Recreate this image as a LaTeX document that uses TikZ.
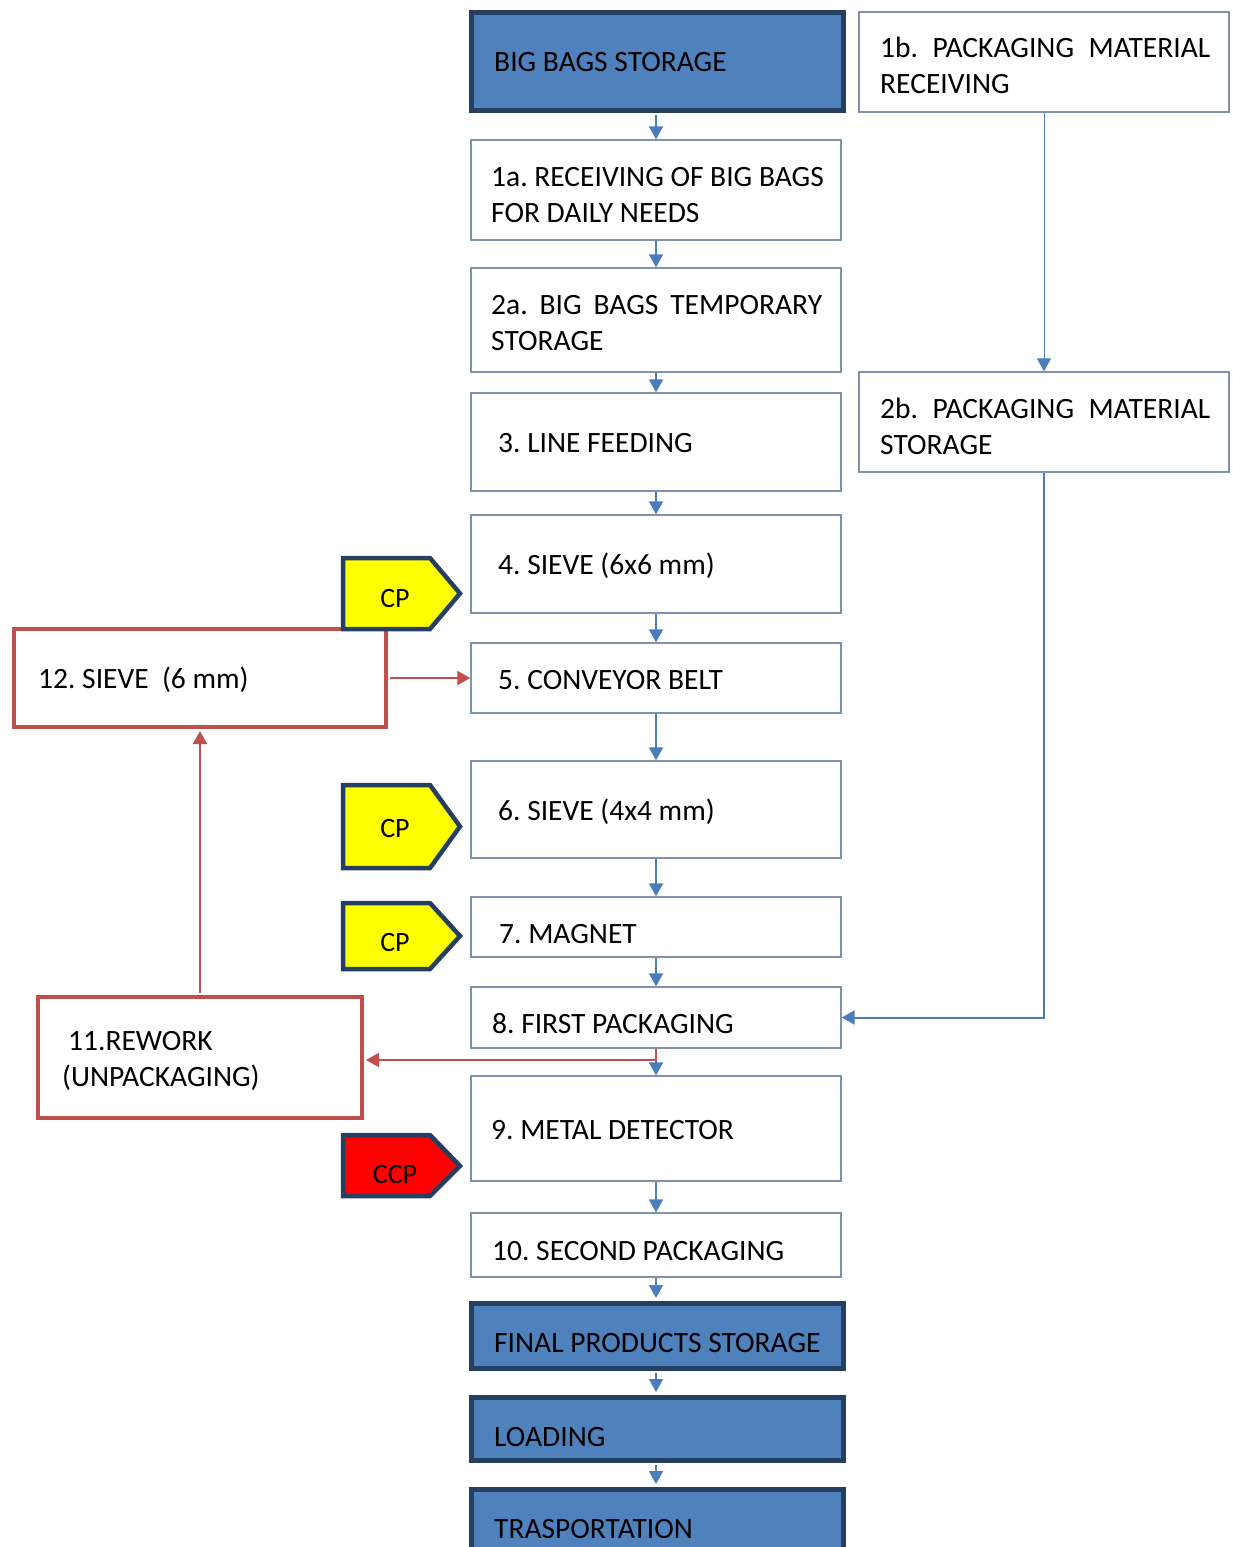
\documentclass[tikz,border=0pt]{standalone}
\usepackage{fontspec}
\setmainfont{Carlito}
\usetikzlibrary{arrows.meta}
\definecolor{boxblue}{HTML}{4F81BD}
\definecolor{navy}{HTML}{243F60}
\definecolor{thinb}{HTML}{7F93AE}
\definecolor{conblue}{HTML}{4A7DBA}
\definecolor{redl}{HTML}{C0504D}
\definecolor{cpyellow}{HTML}{FFFF00}
\definecolor{ccpred}{HTML}{FF0000}
\frenchspacing
\tikzset{
  thinbox/.style={draw=thinb, line width=1.3pt, fill=white, rectangle, inner sep=0pt},
  thickbox/.style={draw=navy, line width=5pt, fill=boxblue, rectangle, inner sep=0pt},
  redbox/.style={draw=redl, line width=4pt, fill=white, rectangle, inner sep=0pt},
  lbl/.style={anchor=base west, inner sep=0pt, font=\fontsize{29.5pt}{35pt}\selectfont},
  cplbl/.style={anchor=base, inner sep=0pt, font=\fontsize{28pt}{34pt}\selectfont},
  arr/.style={draw=conblue, line width=2pt, -{Triangle[width=14pt,length=13pt]}},
  thinarr/.style={draw=conblue, line width=1pt, -{Triangle[width=14pt,length=13pt]}},
  redarr/.style={draw=redl, line width=2pt, -{Triangle[width=14pt,length=13pt]}},
  pent/.style={draw=navy, line width=4.5pt, line join=miter},
}
\begin{document}
\begin{tikzpicture}[x=1pt,y=-1pt]
\useasboundingbox (0,0) rectangle (1233,1547);
% boxes
\node[thickbox, minimum width=372pt, minimum height=98pt] (bbs) at (657,61) {};
\node[thinbox, minimum width=370pt, minimum height=100pt] (b1b) at (1044,62) {};
\node[thinbox, minimum width=370pt, minimum height=100pt] (b1a) at (656,190) {};
\node[thinbox, minimum width=370pt, minimum height=104pt] (b2a) at (656,320) {};
\node[thinbox, minimum width=370pt, minimum height=98pt] (b3) at (656,442) {};
\node[thinbox, minimum width=370pt, minimum height=100pt] (b2b) at (1044,422) {};
\node[thinbox, minimum width=370pt, minimum height=98pt] (b4) at (656,564) {};
\node[redbox, minimum width=372pt, minimum height=98pt] (b12) at (200,678) {};
\node[thinbox, minimum width=370pt, minimum height=70pt] (b5) at (656,678) {};
\node[thinbox, minimum width=370pt, minimum height=97pt] (b6) at (656,809.5) {};
\node[thinbox, minimum width=370pt, minimum height=60pt] (b7) at (656,927) {};
\node[thinbox, minimum width=370pt, minimum height=61pt] (b8) at (656,1017.5) {};
\node[redbox, minimum width=324pt, minimum height=121pt] (b11) at (200,1057.5) {};
\node[thinbox, minimum width=370pt, minimum height=105pt] (b9) at (656,1128.5) {};
\node[thinbox, minimum width=370pt, minimum height=64pt] (b10) at (656,1245) {};
\node[thickbox, minimum width=372pt, minimum height=65pt] (bfp) at (657,1335.5) {};
\node[thickbox, minimum width=372pt, minimum height=63pt] (bld) at (657,1428.5) {};
\node[thickbox, minimum width=372pt, minimum height=71pt] (btr) at (657,1524.5) {};
% pentagons
\draw[pent, fill=cpyellow] (343,558) -- (430,558) -- (460,593.5) -- (430,629) -- (343,629) -- cycle;
\draw[pent, fill=cpyellow] (343,785) -- (430,785) -- (460,826.5) -- (430,868) -- (343,868) -- cycle;
\draw[pent, fill=cpyellow] (343,903) -- (430,903) -- (460,936) -- (430,969) -- (343,969) -- cycle;
\draw[pent, fill=ccpred] (343,1135) -- (430,1135) -- (460,1166) -- (430,1196) -- (343,1196) -- cycle;
% labels
\node[lbl] (t0) at (494,71) {BIG BAGS STORAGE};
\node[lbl] (t1b1) at (880,57) {\makebox[330pt][s]{1b. PACKAGING MATERIAL}};
\node[lbl] (t1b2) at (880,93) {RECEIVING};
\node[lbl] (t1a1) at (491,186) {1a. RECEIVING OF BIG BAGS};
\node[lbl] (t1a2) at (491,222) {FOR DAILY NEEDS};
\node[lbl] (t2a1) at (491,314) {\makebox[331pt][s]{2a. BIG BAGS TEMPORARY}};
\node[lbl] (t2a2) at (491,350) {STORAGE};
\node[lbl] (t3) at (498,452) {3. LINE FEEDING};
\node[lbl] (t2b1) at (880,418) {\makebox[330pt][s]{2b. PACKAGING MATERIAL}};
\node[lbl] (t2b2) at (880,454) {STORAGE};
\node[lbl] (t4) at (498,574) {4. SIEVE (6x6 mm)};
\node[lbl] (t12) at (38,688) {12. SIEVE\ \ (6 mm)};
\node[lbl] (t5) at (498,689) {5. CONVEYOR BELT};
\node[lbl] (t6) at (498,820) {6. SIEVE (4x4 mm)};
\node[lbl] (t7) at (499,943) {7. MAGNET};
\node[lbl] (t8) at (492,1033) {8. FIRST PACKAGING};
\node[lbl] (t11a) at (68,1050) {11.REWORK};
\node[lbl] (t11b) at (62,1086) {(UNPACKAGING)};
\node[lbl] (t9) at (491,1139) {9. METAL DETECTOR};
\node[lbl] (t10) at (492,1260) {10. SECOND PACKAGING};
\node[lbl] (tfp) at (494,1352) {FINAL PRODUCTS STORAGE};
\node[lbl] (tld) at (494,1446) {LOADING};
\node[lbl] (ttr) at (494,1538) {TRASPORTATION};
\node[cplbl] (cp1) at (395,607) {CP};
\node[cplbl] (cp2) at (395,837) {CP};
\node[cplbl] (cp3) at (395,951) {CP};
\node[cplbl] (ccp) at (395,1183) {CCP};
% blue connectors
\draw[arr, shorten <=2.5pt] (bbs.south -| b1a.north) -- (b1a.north);
\draw[arr] (b1a.south) -- (b2a.north);
\draw[arr] (b2a.south) -- (b3.north);
\draw[arr] (b3.south) -- (b4.north);
\draw[arr] (b4.south) -- (b5.north);
\draw[arr] (b5.south) -- (b6.north);
\draw[arr] (b6.south) -- (b7.north);
\draw[arr] (b7.south) -- (b8.north);
\draw[arr] (b8.south) -- (b9.north);
\draw[arr] (b9.south) -- (b10.north);
\draw[arr, shorten >=2.5pt] (b10.south) -- (b10.south |- bfp.north);
\draw[arr, shorten <=2.5pt, shorten >=2.5pt] (bfp.south -| b10.south) -- (bld.north -| b10.south);
\draw[arr, shorten <=2.5pt, shorten >=2.5pt] (bld.south -| b10.south) -- (btr.north -| b10.south);
\draw[thinarr] (b1b.south) -- (b2b.north);
\draw[arr] (b2b.south) |- (b8.east);
% red connectors
\draw[redarr, shorten <=2pt, shorten >=2pt] (b11.north) -- (b12.south);
\draw[redarr, shorten <=2pt] (b12.east) -- (b5.west);
\draw[redarr, shorten >=2pt] (b8.south) |- ([yshift=-2.5pt]b11.east);
\end{tikzpicture}
\end{document}
